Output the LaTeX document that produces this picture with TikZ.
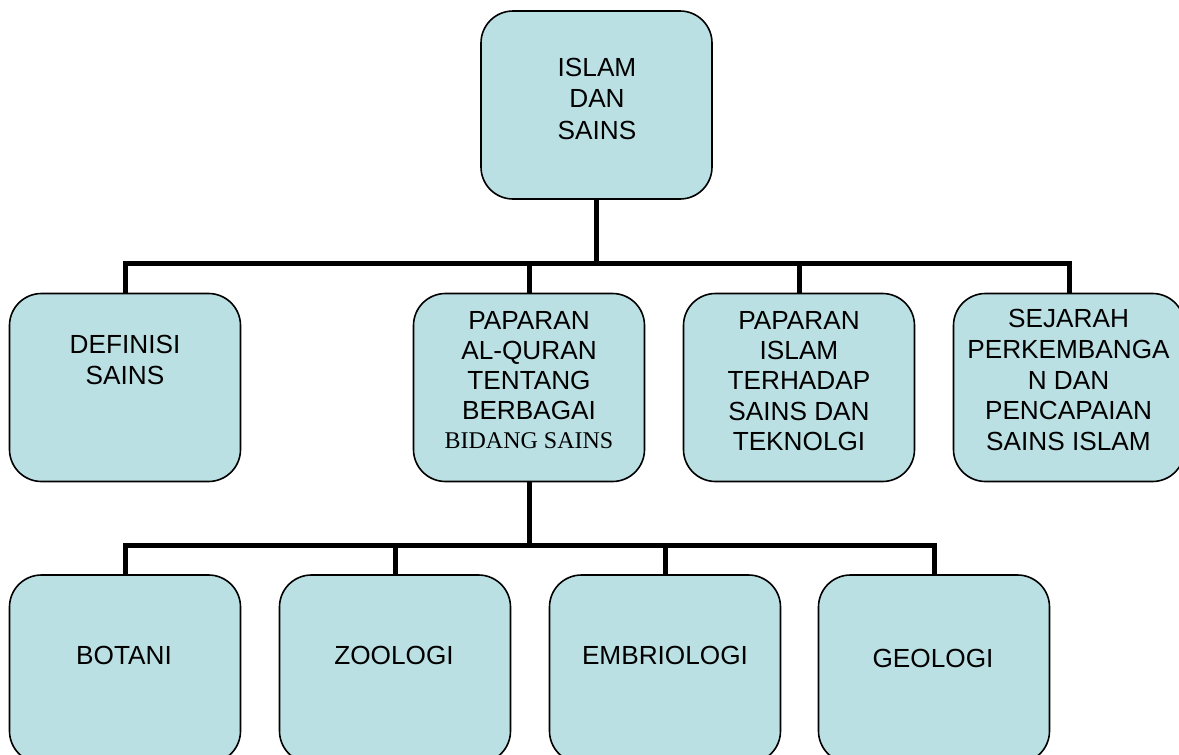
\documentclass[tikz,border=0pt]{standalone}
\usepackage{fontspec}
\setmainfont{Liberation Sans}
\newfontfamily\timesfont{Liberation Serif}
\definecolor{boxfill}{RGB}{187,224,227}
\begin{document}
\begin{tikzpicture}[x=1pt,y=-1pt,
  box/.style={draw=black, line width=1.6pt, fill=boxfill, rounded corners=32pt,
    minimum width=231pt, minimum height=188pt, inner sep=0pt},
  txt/.style={anchor=north, align=center, inner sep=0pt,
    font=\fontsize{26.2}{30.5}\selectfont},
  conn/.style={line width=5pt}]
\useasboundingbox (0,0) rectangle (1179,755);
\clip (0,0) rectangle (1179,755);
% boxes
\node[box] (top) at (596.5,105) {};
\node[box] (def) at (125,387.5) {};
\node[box] (quran) at (529,387.5) {};
\node[box] (islam) at (799,387.5) {};
\node[box] (sejarah) at (1069,387.5) {};
\node[box] (botani) at (125,669) {};
\node[box] (zoo) at (395,669) {};
\node[box] (emb) at (665,669) {};
\node[box] (geo) at (934,669) {};
% connectors level 1
\coordinate (j1) at (596.5,263);
\draw[conn] (top.south) -- (j1);
\draw[conn] (def.north) -- (def.north |- j1) -- (sejarah.north |- j1) -- (sejarah.north);
\draw[conn] (quran.north) -- (quran.north |- j1);
\draw[conn] (islam.north) -- (islam.north |- j1);
% connectors level 2
\coordinate (j2) at (529,545);
\draw[conn] (quran.south) -- (j2);
\draw[conn] (botani.north) -- (botani.north |- j2) -- (geo.north |- j2) -- (geo.north);
\draw[conn] (zoo.north) -- (zoo.north |- j2);
\draw[conn] (emb.north) -- (emb.north |- j2);
% texts
\node[txt, font=\fontsize{26.2}{31.3}\selectfont] (tTop) at (597,58) {ISLAM\\DAN\\SAINS};
\node[txt, font=\fontsize{26.2}{31}\selectfont] (tDef) at (125,335.5) {DEFINISI\\SAINS};
\node[txt, font=\fontsize{26.2}{30}\selectfont] (tQuran) at (529,311)
  {PAPARAN\\AL-QURAN\\TENTANG\\BERBAGAI\\[-0.7pt]{\timesfont\fontsize{24}{29}\selectfont BIDANG SAINS}};
\node[txt, font=\fontsize{26.2}{30.2}\selectfont] (tIslam) at (799,311.2)
  {PAPARAN\\ISLAM\\TERHADAP\\SAINS DAN\\TEKNOLGI};
\node[txt, font=\fontsize{26.2}{30.8}\selectfont] (tSej) at (1068.5,309)
  {SEJARAH\\PERKEMBANGA\\N DAN\\PENCAPAIAN\\SAINS ISLAM};
\node[txt] (tBot) at (124,645.5) {BOTANI};
\node[txt] (tZoo) at (394,645.5) {ZOOLOGI};
\node[txt] (tEmb) at (665,645.5) {EMBRIOLOGI};
\node[txt] (tGeo) at (933,649) {GEOLOGI};
\end{tikzpicture}
\end{document}
